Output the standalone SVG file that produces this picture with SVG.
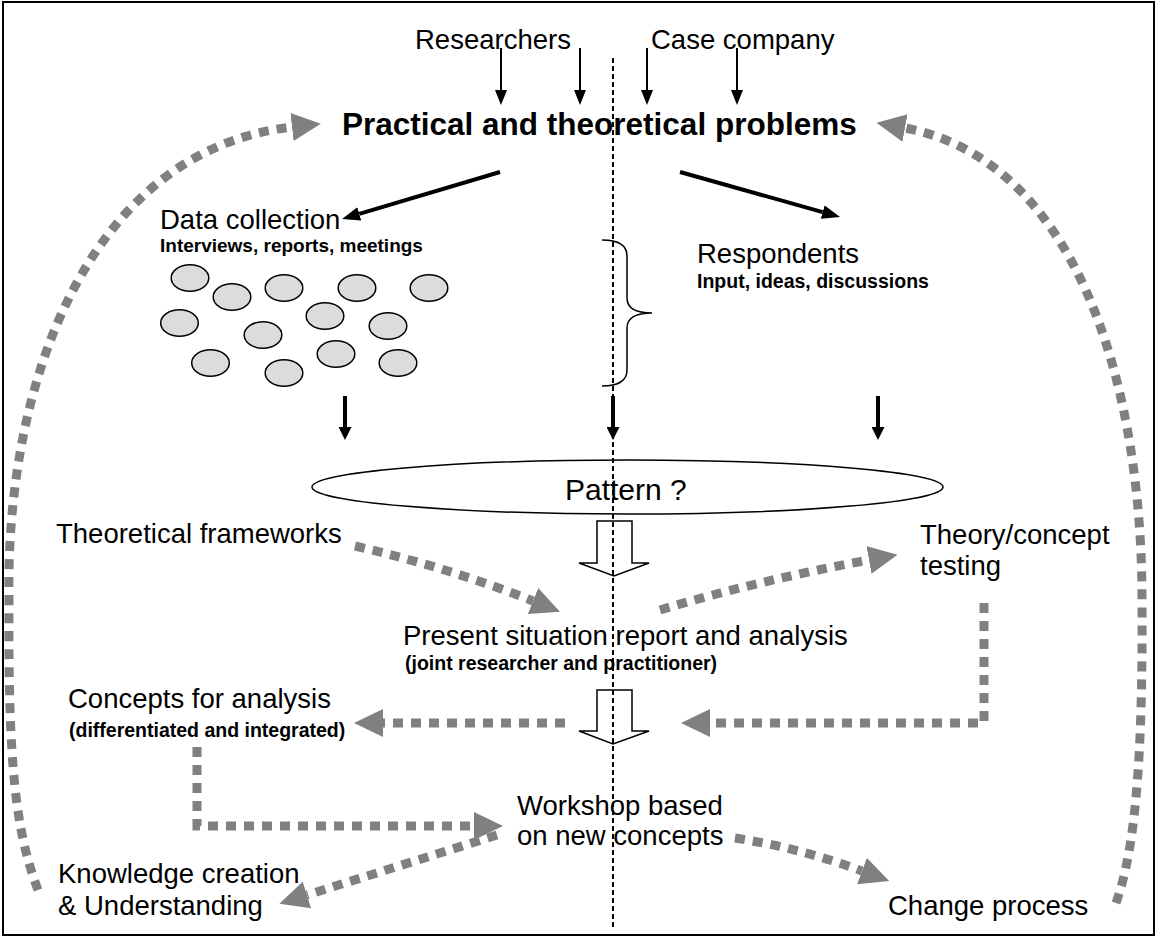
<svg xmlns="http://www.w3.org/2000/svg" width="1157" height="937" viewBox="0 0 1157 937">
<style>
text{font-family:"Liberation Sans",Arial,sans-serif;fill:#000}
.r{font-size:27.5px}
.b{font-size:19.5px;font-weight:bold}
.t{font-size:31.5px;font-weight:bold}
.dot{fill:#dcdcdc;stroke:#000;stroke-width:1.5}
.g{fill:none;stroke:#808080;stroke-width:9;stroke-dasharray:10 8;marker-end:url(#gh)}
.thin{stroke:#000;stroke-width:2;marker-end:url(#bh1)}
.thick{stroke:#000;stroke-width:4;marker-end:url(#bh2)}
.down{stroke:#000;stroke-width:4;marker-end:url(#bh3)}
.hollow{fill:#fff;stroke:#000;stroke-width:1.5}
</style>
<defs>
<marker id="gh" markerUnits="userSpaceOnUse" markerWidth="29" markerHeight="28" refX="0" refY="14" orient="auto" viewBox="0 0 29 28"><path d="M0,0 L29,14 L0,28 z" fill="#808080"/></marker>
<marker id="bh1" markerUnits="userSpaceOnUse" markerWidth="15" markerHeight="12" refX="0" refY="6" orient="auto" viewBox="0 0 15 12"><path d="M0,0 L15,6 L0,12 z" fill="#000"/></marker>
<marker id="bh2" markerUnits="userSpaceOnUse" markerWidth="18" markerHeight="14" refX="0" refY="7" orient="auto" viewBox="0 0 18 14"><path d="M0,0 L18,7 L0,14 z" fill="#000"/></marker>
<marker id="bh3" markerUnits="userSpaceOnUse" markerWidth="13" markerHeight="13" refX="0" refY="6.5" orient="auto" viewBox="0 0 13 13"><path d="M0,0 L13,6.5 L0,13 z" fill="#000"/></marker>
</defs>
<rect x="3" y="2" width="1151" height="933" fill="#fff" stroke="#000" stroke-width="2"/>

<g id="researchers"><text class="r" x="415" y="49">Researchers</text></g>
<g id="case-company"><text class="r" x="651" y="49">Case company</text></g>
<g id="problems"><text class="t" x="342" y="135">Practical and theoretical problems</text></g>
<g id="data-collection">
<text class="r" x="160" y="229">Data collection</text>
<text class="b" x="160" y="252" style="font-size:19px">Interviews, reports, meetings</text>
<ellipse class="dot" cx="190" cy="278" rx="18.8" ry="13.3"/>
<ellipse class="dot" cx="232" cy="297" rx="18.8" ry="13.3"/>
<ellipse class="dot" cx="284" cy="288" rx="18.8" ry="13.3"/>
<ellipse class="dot" cx="357" cy="288" rx="18.8" ry="13.3"/>
<ellipse class="dot" cx="429" cy="288" rx="18.8" ry="13.3"/>
<ellipse class="dot" cx="179.5" cy="323" rx="18.8" ry="13.3"/>
<ellipse class="dot" cx="263" cy="335" rx="18.8" ry="13.3"/>
<ellipse class="dot" cx="325" cy="316" rx="18.8" ry="13.3"/>
<ellipse class="dot" cx="388" cy="326" rx="18.8" ry="13.3"/>
<ellipse class="dot" cx="210.5" cy="363" rx="18.8" ry="13.3"/>
<ellipse class="dot" cx="284" cy="373" rx="18.8" ry="13.3"/>
<ellipse class="dot" cx="336" cy="354" rx="18.8" ry="13.3"/>
<ellipse class="dot" cx="398" cy="363" rx="18.8" ry="13.3"/>
</g>
<g id="brace"><path d="M602,240 Q627,240 627,256 L627,298 Q627,313 652,313 Q627,313 627,328 L627,370 Q627,386 602,386" fill="none" stroke="#000" stroke-width="1.5"/></g>
<g id="respondents">
<text class="r" x="697" y="263">Respondents</text>
<text class="b" x="697" y="288">Input, ideas, discussions</text>
</g>
<g id="pattern">
<ellipse cx="627.5" cy="487" rx="315.5" ry="27" fill="none" stroke="#000" stroke-width="1.5"/>
<text x="565" y="500" style="font-size:30px">Pattern ?</text>
</g>
<g id="theoretical-frameworks"><text class="r" x="56" y="543">Theoretical frameworks</text></g>
<g id="theory-testing">
<text class="r" x="920" y="544">Theory/concept</text>
<text class="r" x="920" y="575">testing</text>
</g>
<g id="present-situation">
<text class="r" x="403" y="645">Present situation report and analysis</text>
<text class="b" x="405" y="670">(joint researcher and practitioner)</text>
</g>
<g id="concepts">
<text class="r" x="68" y="708">Concepts for analysis</text>
<text class="b" x="69" y="737">(differentiated and integrated)</text>
</g>
<g id="workshop">
<text class="r" x="517" y="815">Workshop based</text>
<text class="r" x="517" y="845">on new concepts</text>
</g>
<g id="knowledge">
<text class="r" x="58" y="883">Knowledge creation</text>
<text class="r" x="58" y="915">&amp; Understanding</text>
</g>
<g id="change-process"><text class="r" x="888" y="915">Change process</text></g>

<g id="connectors">
<line class="thin" x1="501" y1="48" x2="501" y2="90"/>
<line class="thin" x1="580" y1="48" x2="580" y2="90"/>
<line class="thin" x1="647" y1="48" x2="647" y2="90"/>
<line class="thin" x1="737" y1="48" x2="737" y2="90"/>
<line class="thick" x1="500" y1="172" x2="359.3" y2="213.9"/>
<line class="thick" x1="680" y1="172" x2="822.7" y2="212.1"/>
<line class="down" x1="345" y1="396" x2="345" y2="427"/>
<line class="down" x1="613" y1="396" x2="613" y2="427"/>
<line class="down" x1="878" y1="396" x2="878" y2="427"/>
<polygon class="hollow" points="597,521 632,521 632,563 649,563 614,576 579,563 597,563"/>
<polygon class="hollow" points="597,690 632,690 632,731 649,731 613,744 579,731 597,731"/>
<path class="g" d="M38,890 C15,830 8,760 9,600 C5,380 90,150 292,127"/>
<path class="g" d="M1116,903 C1135,850 1143,760 1142,600 C1142,380 1075,160 905,128"/>
<path class="g" d="M355,546 Q450,568 533,601"/>
<path class="g" d="M660,610 Q760,580 869,560"/>
<path class="g" d="M984,603 L984,723 L710,723"/>
<path class="g" d="M565,723 L383,723"/>
<path class="g" d="M197,747 L197,826 L474,826"/>
<path class="g" d="M497,835 L307,895"/>
<path class="g" d="M735,838 Q800,848 862,871"/>
<line x1="613" y1="58" x2="613" y2="927" stroke="#000" stroke-width="2" stroke-dasharray="5 3"/>
</g>
</svg>
